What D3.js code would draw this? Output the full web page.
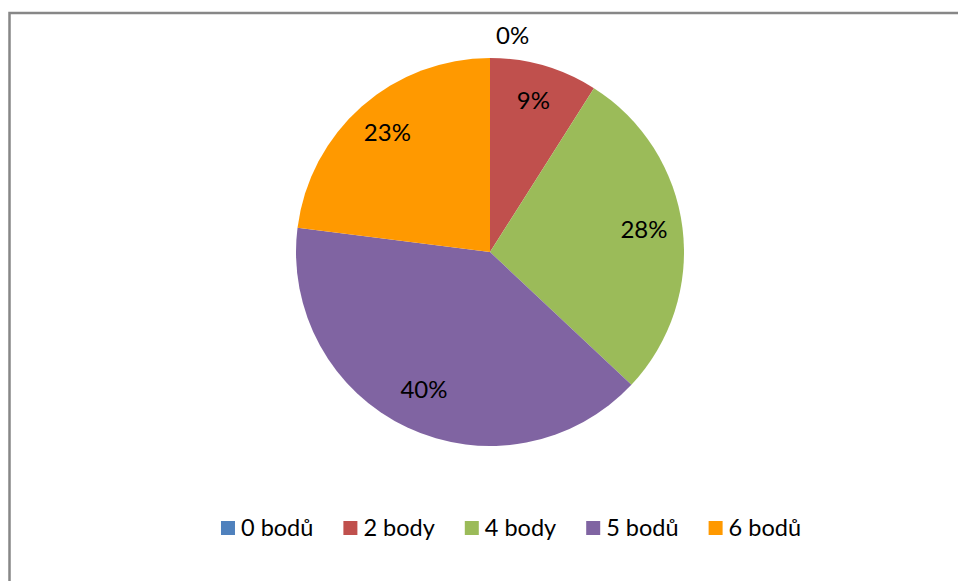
<!DOCTYPE html>
<html>
<head>
<meta charset="utf-8">
<script src="https://cdn.jsdelivr.net/npm/d3@7"></script>
<style>
  html, body { margin: 0; padding: 0; background: #fff; }
  svg { display: block; }
  text { font-family: Lato, "Open Sans", sans-serif; fill: #000; }
</style>
</head>
<body>
<svg id="chart" width="958" height="581"></svg>
<script>
// Score distribution (share of pupils per number of points)
const categories = ["0 bodů", "2 body", "4 body", "5 bodů", "6 bodů"];
const shares = [0, 9, 28, 40, 23];
const colors = ["#4F81BD", "#C0504D", "#9BBB59", "#8064A2", "#FF9900"];

const W = 958, H = 581;
const cx = 490, cy = 252, R = 194;

const svg = d3.select("#chart");

// outer frame of the chart area
svg.append("rect")
  .attr("x", 9.5).attr("y", 13)
  .attr("width", 1200).attr("height", 1200)
  .attr("fill", "none")
  .attr("stroke", "#878787")
  .attr("stroke-width", 2.5);

const data = categories.map((c, i) => ({ name: c, value: shares[i], color: colors[i] }));

const pie = d3.pie().value(d => d.value).sort(null);
const arcs = pie(data);

const arc = d3.arc().innerRadius(0).outerRadius(R);
const labelArc = d3.arc().innerRadius(R * 0.8).outerRadius(R * 0.8);
const outerArc = d3.arc().innerRadius(R + 20).outerRadius(R + 20);

const g = svg.append("g").attr("transform", `translate(${cx},${cy})`);

g.selectAll("path.slice")
  .data(arcs)
  .join("path")
  .attr("class", "slice")
  .attr("d", arc)
  .attr("fill", d => d.data.color);

const fmt = v => `${Math.round(v)}%`;

g.selectAll("text.val")
  .data(arcs)
  .join("text")
  .attr("class", "val")
  .attr("transform", d => {
    const [x, y] = d.data.value === 0 ? outerArc.centroid(d) : labelArc.centroid(d);
    return `translate(${x},${y})`;
  })
  .attr("text-anchor", d => d.data.value === 0 ? "start" : "middle")
  .attr("dx", d => d.data.value === 0 ? 6 : 0)
  .attr("dy", "0.24em")
  .style("font-size", "24px")
  .text(d => fmt(d.data.value));

// legend along the bottom, centred
const legend = svg.append("g");
const items = legend.selectAll("g.item")
  .data(data)
  .join("g")
  .attr("class", "item");

items.append("rect")
  .attr("width", 14).attr("height", 14)
  .attr("y", -7)
  .attr("fill", d => d.color);

items.append("text")
  .attr("x", 20)
  .attr("dy", "0.36em")
  .style("font-size", "23.5px")
  .text(d => d.name);

let x = 0;
const gap = 30;
items.each(function () {
  const w = this.getBBox().width;
  d3.select(this).attr("transform", `translate(${x},0)`);
  x += w + gap;
});
const total = x - gap;
legend.attr("transform", `translate(${511 - total / 2},528)`);
</script>
</body>
</html>
